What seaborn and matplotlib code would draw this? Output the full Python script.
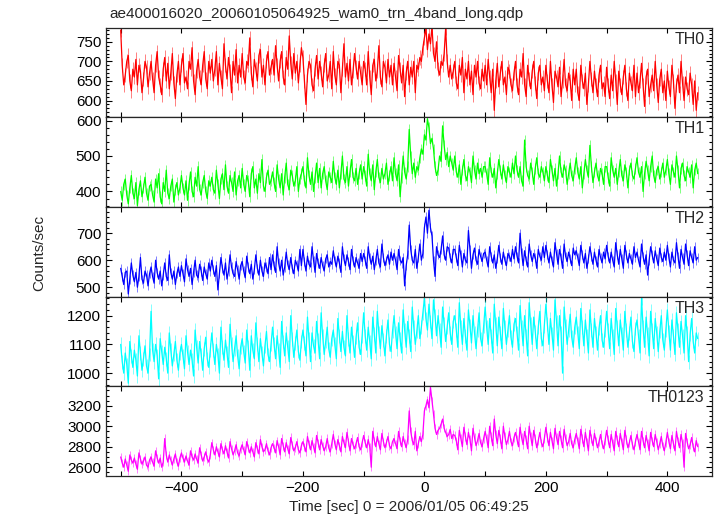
import numpy as np
import matplotlib
matplotlib.use("Agg")
import matplotlib.pyplot as plt
from matplotlib.ticker import MultipleLocator
import seaborn as sns

sns.set_style("ticks")
plt.rcParams["font.family"] = ["Liberation Sans", "DejaVu Sans"]

TITLE = "ae400016020_20060105064925_wam0_trn_4band_long.qdp"
XLABEL = "Time [sec] 0 = 2006/01/05 06:49:25"
YLABEL = "Counts/sec"

# bin centres, 2.5 s bins from -500 to 450
time_sec = np.arange(381) * 2.5 - 500

th0 = [
    780, 690, 640, 665, 700, 715, 650, 625, 680, 660, 705, 640, 690, 675, 620, 655, 700, 685, 635, 670,
    700, 655, 620, 690, 725, 660, 640, 615, 680, 710, 650, 695, 630, 670, 720, 645, 605, 665, 700, 640,
    690, 720, 645, 660, 630, 700, 680, 735, 650, 615, 675, 705, 660, 640, 690, 725, 655, 630, 700, 670,
    705, 650, 680, 725, 640, 695, 660, 630, 745, 690, 655, 710, 675, 620, 700, 665, 730, 645, 690, 660,
    720, 660, 645, 700, 690, 760, 670, 635, 705, 680, 650, 715, 730, 660, 690, 640, 700, 725, 665, 685,
    705, 665, 740, 690, 650, 700, 725, 660, 640, 710, 680, 765, 695, 655, 720, 670, 700, 645, 690, 735,
    710, 650, 590, 665, 700, 690, 640, 625, 680, 715, 655, 700, 670, 635, 690, 720, 650, 665, 700, 630,
    725, 665, 640, 700, 690, 620, 680, 745, 660, 695, 650, 705, 640, 675, 720, 685, 655, 700, 670, 640,
    700, 680, 640, 725, 660, 615, 690, 705, 650, 675, 740, 660, 635, 700, 685, 645, 705, 660, 690, 640,
    695, 660, 625, 715, 680, 645, 690, 610, 670, 700, 640, 685, 660, 700, 620, 690, 680, 710, 700, 735,
    760, 785, 730, 770, 745, 790, 720, 700, 750, 680, 665, 700, 690, 720, 785, 700, 660, 690, 655, 675,
    700, 645, 630, 690, 665, 710, 620, 680, 655, 700, 640, 675, 615, 690, 660, 700, 645, 630, 680, 650,
    690, 640, 705, 660, 620, 680, 575, 650, 695, 635, 670, 700, 640, 660, 615, 685, 675, 640, 625, 670,
    700, 640, 615, 680, 660, 720, 640, 610, 690, 655, 630, 675, 700, 645, 605, 670, 690, 640, 660, 625,
    690, 650, 620, 700, 640, 595, 675, 660, 635, 685, 610, 650, 705, 640, 625, 670, 650, 600, 680, 640,
    680, 620, 600, 690, 650, 630, 670, 590, 640, 700, 655, 620, 675, 640, 610, 665, 690, 630, 645, 610,
    685, 640, 605, 665, 625, 700, 650, 590, 675, 640, 615, 660, 690, 630, 600, 670, 645, 625, 690, 610,
    670, 620, 650, 695, 640, 585, 660, 680, 610, 640, 665, 625, 700, 640, 595, 655, 680, 620, 650, 600,
    675, 635, 610, 690, 650, 580, 640, 665, 620, 700, 645, 600, 660, 630, 615, 670, 640, 590, 650, 575,
    620,
]

th1 = [
    400, 375, 420, 435, 390, 365, 410, 445, 395, 380, 425, 360, 405, 430, 385, 410, 440, 395, 375, 415,
    420, 390, 370, 435, 410, 450, 385, 365, 425, 400, 460, 395, 380, 415, 435, 370, 405, 425, 390, 410,
    445, 410, 390, 430, 375, 420, 455, 400, 385, 440, 415, 470, 405, 390, 425, 445, 400, 380, 430, 415,
    440, 405, 395, 460, 420, 380, 435, 450, 405, 475, 415, 395, 445, 425, 400, 455, 390, 430, 445, 410,
    465, 420, 400, 445, 430, 385, 450, 470, 410, 435, 395, 450, 425, 490, 415, 400, 440, 460, 420, 430,
    455, 425, 400, 475, 435, 410, 450, 390, 440, 480, 420, 405, 460, 445, 415, 430, 470, 400, 435, 450,
    470, 430, 410, 495, 445, 420, 455, 400, 440, 480, 425, 465, 410, 450, 470, 430, 405, 455, 440, 425,
    485, 440, 420, 460, 410, 450, 500, 435, 425, 470, 415, 455, 490, 440, 430, 465, 420, 450, 475, 435,
    470, 445, 415, 505, 450, 430, 475, 405, 455, 490, 440, 425, 465, 435, 450, 480, 420, 445, 470, 430,
    495, 450, 430, 475, 385, 440, 500, 455, 435, 470, 575, 500, 450, 480, 440, 470, 460, 495, 520, 505,
    560, 545, 605, 580, 535, 550, 520, 470, 445, 460, 500, 485, 585, 530, 490, 510, 470, 500, 480, 460,
    500, 455, 440, 475, 420, 460, 490, 445, 430, 470, 455, 425, 500, 460, 435, 480, 450, 465, 440, 470,
    470, 450, 420, 495, 455, 440, 465, 410, 450, 490, 460, 435, 475, 445, 425, 470, 455, 440, 480, 450,
    500, 460, 440, 470, 430, 415, 545, 470, 445, 435, 480, 455, 420, 465, 495, 450, 440, 470, 455, 430,
    470, 445, 425, 490, 460, 430, 465, 415, 450, 500, 455, 440, 475, 460, 420, 450, 480, 445, 430, 465,
    495, 455, 435, 470, 410, 450, 490, 460, 440, 530, 470, 425, 455, 480, 445, 430, 465, 450, 420, 470,
    470, 440, 415, 495, 460, 440, 465, 420, 455, 490, 445, 430, 475, 455, 410, 460, 480, 445, 435, 465,
    495, 455, 440, 470, 400, 450, 485, 460, 430, 470, 500, 445, 425, 460, 470, 435, 455, 480, 440, 460,
    490, 450, 420, 475, 455, 440, 500, 460, 410, 465, 480, 445, 430, 470, 455, 440, 475, 410, 460, 480,
    450,
]

th2 = [
    570, 540, 510, 555, 560, 475, 530, 590, 545, 520, 555, 500, 540, 610, 530, 515, 560, 545, 505, 550,
    575, 540, 515, 600, 555, 530, 560, 505, 545, 590, 540, 525, 620, 555, 530, 560, 510, 550, 575, 540,
    580, 550, 520, 605, 565, 540, 570, 510, 555, 600, 545, 535, 585, 560, 525, 575, 550, 530, 590, 560,
    600, 565, 540, 580, 490, 550, 610, 570, 545, 590, 530, 560, 620, 575, 550, 540, 595, 565, 530, 580,
    595, 560, 535, 615, 575, 550, 585, 530, 565, 620, 570, 545, 600, 560, 540, 590, 575, 550, 610, 565,
    620, 580, 555, 650, 590, 560, 600, 545, 575, 630, 585, 565, 610, 570, 550, 600, 585, 560, 640, 580,
    640, 595, 560, 615, 585, 575, 650, 600, 555, 625, 590, 570, 610, 580, 560, 605, 620, 575, 595, 585,
    635, 600, 575, 615, 590, 555, 650, 605, 580, 620, 595, 565, 640, 600, 575, 610, 590, 570, 625, 595,
    625, 600, 570, 650, 610, 585, 615, 565, 600, 640, 590, 575, 660, 610, 580, 600, 620, 585, 630, 600,
    625, 600, 565, 640, 600, 590, 610, 505, 580, 620, 730, 640, 600, 590, 640, 570, 610, 660, 600, 625,
    720, 760, 700, 785, 720, 690, 600, 540, 650, 620, 610, 640, 690, 620, 600, 650, 645, 610, 590, 640,
    640, 610, 580, 655, 620, 575, 625, 600, 590, 710, 640, 570, 620, 645, 600, 585, 640, 615, 595, 625,
    630, 600, 575, 650, 615, 590, 620, 570, 605, 655, 610, 585, 630, 600, 580, 625, 615, 595, 640, 605,
    650, 615, 590, 700, 630, 580, 635, 600, 575, 660, 620, 595, 625, 610, 570, 640, 615, 600, 650, 610,
    655, 620, 590, 630, 600, 575, 665, 625, 585, 640, 610, 570, 660, 615, 595, 630, 605, 580, 645, 620,
    635, 610, 580, 655, 620, 590, 625, 570, 605, 650, 615, 585, 630, 600, 575, 640, 610, 590, 630, 605,
    655, 615, 590, 630, 600, 575, 665, 620, 585, 640, 605, 570, 655, 620, 590, 625, 605, 585, 650, 610,
    630, 600, 575, 660, 615, 585, 620, 545, 600, 650, 620, 590, 635, 605, 580, 645, 610, 595, 630, 600,
    655, 610, 575, 630, 600, 590, 665, 615, 570, 640, 610, 585, 660, 620, 580, 635, 610, 590, 650, 600,
    610,
]

th3 = [
    1100, 1040, 1000, 1070, 1030, 965, 1110, 1060, 1020, 1080, 1045, 990, 1130, 1070, 1010, 1050, 1095, 1025, 1000, 1065,
    1215, 1080, 1040, 1100, 1060, 980, 1120, 1075, 1030, 1090, 1050, 1000, 1140, 1080, 1025, 1065, 1110, 1045, 1010, 1070,
    1100, 1060, 1015, 1130, 1075, 1030, 1080, 1045, 990, 1150, 1090, 1035, 1110, 1065, 1010, 1085, 1125, 1050, 1020, 1080,
    1140, 1080, 1030, 1100, 1065, 1000, 1160, 1090, 1045, 1115, 1070, 1020, 1170, 1100, 1040, 1085, 1130, 1060, 1015, 1090,
    1120, 1075, 1035, 1150, 1090, 1010, 1130, 1080, 1050, 1175, 1100, 1040, 1120, 1070, 1025, 1095, 1145, 1065, 1040, 1100,
    1160, 1100, 1050, 1130, 1080, 1020, 1180, 1110, 1060, 1140, 1090, 1040, 1200, 1120, 1055, 1105, 1150, 1075, 1045, 1110,
    1150, 1105, 1060, 1195, 1120, 1040, 1140, 1095, 1070, 1180, 1115, 1050, 1210, 1130, 1065, 1110, 1160, 1085, 1055, 1120,
    1150, 1100, 1050, 1190, 1130, 1075, 1145, 1090, 1060, 1200, 1120, 1070, 1160, 1110, 1055, 1125, 1175, 1090, 1065, 1130,
    1210, 1130, 1080, 1160, 1110, 1050, 1195, 1135, 1070, 1215, 1140, 1085, 1165, 1115, 1060, 1130, 1185, 1100, 1075, 1145,
    1200, 1140, 1085, 1175, 1120, 1070, 1220, 1150, 1090, 1180, 1130, 1075, 1230, 1160, 1100, 1145, 1200, 1120, 1160, 1210,
    1260, 1190, 1150, 1240, 1180, 1120, 1255, 1200, 1130, 1200, 1150, 1090, 1230, 1170, 1110, 1160, 1210, 1140, 1100, 1180,
    1200, 1150, 1090, 1245, 1160, 1100, 1190, 1130, 1080, 1220, 1165, 1105, 1200, 1140, 1085, 1150, 1210, 1120, 1095, 1165,
    1230, 1160, 1100, 1190, 1130, 1070, 1240, 1170, 1095, 1195, 1140, 1085, 1225, 1160, 1100, 1150, 1200, 1125, 1090, 1170,
    1190, 1140, 1080, 1235, 1160, 1095, 1200, 1130, 1060, 1245, 1170, 1100, 1195, 1145, 1085, 1160, 1215, 1120, 1095, 1165,
    1240, 1170, 1100, 1190, 1135, 1080, 1255, 1180, 1095, 1200, 1140, 1000, 1230, 1165, 1100, 1150, 1205, 1125, 1090, 1160,
    1195, 1140, 1085, 1225, 1160, 1095, 1185, 1130, 1070, 1220, 1150, 1090, 1190, 1140, 1080, 1155, 1200, 1115, 1090, 1150,
    1215, 1150, 1085, 1190, 1130, 1065, 1225, 1160, 1095, 1185, 1135, 1080, 1215, 1150, 1090, 1140, 1195, 1110, 1075, 1155,
    1185, 1130, 1070, 1260, 1160, 1090, 1195, 1135, 1060, 1215, 1150, 1085, 1190, 1140, 1075, 1145, 1200, 1115, 1080, 1150,
    1220, 1145, 1080, 1185, 1130, 1065, 1210, 1150, 1090, 1180, 1130, 1070, 1200, 1140, 1040, 1135, 1190, 1110, 1070, 1140,
    1120,
]

th0123 = [
    2700, 2640, 2600, 2680, 2620, 2560, 2720, 2670, 2640, 2690, 2630, 2580, 2740, 2680, 2630, 2660, 2700, 2620, 2600, 2670,
    2700, 2650, 2610, 2760, 2690, 2640, 2690, 2600, 2650, 2880, 2720, 2650, 2720, 2670, 2620, 2680, 2730, 2650, 2610, 2690,
    2740, 2690, 2650, 2710, 2660, 2620, 2760, 2700, 2670, 2730, 2680, 2640, 2790, 2720, 2660, 2700, 2750, 2680, 2650, 2720,
    2840, 2770, 2720, 2800, 2750, 2700, 2830, 2770, 2730, 2810, 2750, 2690, 2850, 2780, 2720, 2760, 2820, 2740, 2710, 2780,
    2820, 2770, 2720, 2850, 2790, 2740, 2800, 2750, 2700, 2840, 2780, 2730, 2870, 2800, 2750, 2770, 2830, 2760, 2720, 2790,
    2830, 2790, 2740, 2860, 2800, 2720, 2880, 2810, 2750, 2840, 2780, 2730, 2890, 2820, 2760, 2790, 2850, 2770, 2740, 2810,
    2850, 2800, 2750, 2900, 2830, 2770, 2860, 2800, 2740, 2910, 2840, 2770, 2870, 2810, 2760, 2800, 2880, 2790, 2750, 2830,
    2920, 2830, 2770, 2870, 2810, 2750, 2900, 2840, 2790, 2940, 2850, 2760, 2880, 2820, 2780, 2830, 2890, 2800, 2770, 2840,
    2910, 2840, 2790, 2870, 2800, 2600, 2950, 2860, 2800, 2900, 2830, 2770, 2930, 2850, 2790, 2840, 2900, 2810, 2780, 2850,
    2880, 2830, 2780, 2950, 2860, 2800, 2900, 2840, 2790, 2870, 3150, 2950, 2860, 2820, 2950, 2760, 2830, 2900, 2850, 2920,
    3150, 3200, 3260, 3180, 3380, 3250, 3120, 2980, 2920, 2960, 2980, 3020, 3070, 2980, 2940, 2900, 2920, 2970, 2880, 2920,
    2910, 2860, 2770, 2960, 2880, 2800, 2990, 2900, 2820, 2940, 2870, 2760, 2980, 2890, 2810, 2860, 2930, 2840, 2800, 2880,
    2950, 2880, 2790, 3000, 2900, 2810, 3070, 2920, 2830, 2960, 2880, 2780, 3000, 2900, 2820, 2870, 2950, 2850, 2810, 2890,
    2940, 2870, 2800, 2990, 2890, 2820, 2950, 2870, 2780, 3000, 2900, 2810, 2960, 2880, 2790, 2860, 2940, 2840, 2800, 2880,
    2990, 2890, 2810, 2940, 2860, 2780, 2980, 2890, 2820, 2950, 2870, 2790, 2970, 2880, 2810, 2850, 2930, 2830, 2790, 2870,
    2930, 2860, 2780, 2970, 2880, 2800, 2940, 2850, 2760, 2960, 2880, 2810, 2930, 2860, 2790, 2850, 2920, 2830, 2780, 2860,
    2960, 2870, 2790, 2920, 2840, 2760, 2950, 2870, 2800, 2930, 2850, 2770, 2960, 2870, 2790, 2840, 2910, 2820, 2770, 2850,
    2920, 2850, 2770, 2950, 2860, 2790, 2910, 2840, 2760, 2940, 2860, 2800, 2920, 2850, 2770, 2830, 2900, 2810, 2760, 2840,
    2940, 2850, 2780, 2910, 2830, 2760, 2950, 2860, 2790, 2920, 2840, 2600, 2930, 2850, 2780, 2820, 2890, 2800, 2750, 2860,
    2800,
]

band_names = ["TH0", "TH1", "TH2", "TH3", "TH0123"]
band_rates = [th0, th1, th2, th3, th0123]
# typical 1-sigma error bar per band, counts/sec
band_errors = [18, 15, 17, 24, 40]
band_colors = ["#ff0000", "#00ff00", "#0000ff", "#00ffff", "#ff00ff"]
band_ylims = [(557, 786), (356, 609), (465, 797), (954, 1266), (2514, 3390)]
major_step = [50, 100, 100, 100, 200]
minor_step = [10, 20, 20, 20, 50]

for r in band_rates:
    assert len(r) == len(time_sec), len(r)

fig, axes = plt.subplots(5, 1, sharex=True, figsize=(7.17, 5.16), dpi=100)
fig.subplots_adjust(left=0.148, right=0.9926, bottom=0.0775, top=0.9463, hspace=0)

for ax, name, rate, err, color, ylim, maj, mnr in zip(
    axes, band_names, band_rates, band_errors, band_colors, band_ylims,
    major_step, minor_step
):
    rate = np.array(rate)
    # error bars, drawn faint like the qdp output
    ax.vlines(time_sec, rate - err, rate + err, color=color, alpha=0.5,
              linewidth=0.7)
    sns.lineplot(x=time_sec, y=rate, ax=ax, color=color,
                 linewidth=0.9, estimator=None)
    ax.set_ylim(*ylim)
    ax.set_xlim(-524, 473)
    ax.yaxis.set_major_locator(MultipleLocator(maj))
    ax.yaxis.set_minor_locator(MultipleLocator(mnr))
    ax.xaxis.set_major_locator(MultipleLocator(200))
    ax.xaxis.set_minor_locator(MultipleLocator(100))
    ax.tick_params(axis="both", which="both", direction="in",
                   top=True, right=True, labelsize=11, width=0.8, colors="black")
    ax.tick_params(axis="y", which="major", length=4)
    ax.tick_params(axis="y", which="minor", length=2)
    ax.tick_params(axis="x", which="both", length=3.5)
    for sp in ax.spines.values():
        sp.set_linewidth(0.9)
        sp.set_visible(True)
    ax.set_ylabel("")
    ax.text(0.988, 0.955, name, transform=ax.transAxes, ha="right", va="top",
            fontsize=11.5)

axes[-1].set_xlabel(XLABEL, fontsize=11, labelpad=4)
fig.text(0.055, 0.51, YLABEL, rotation=90, ha="center", va="center", fontsize=11)
fig.text(0.152, 0.972, TITLE, ha="left", va="center", fontsize=11)

fig.savefig("out.png", dpi=100)
